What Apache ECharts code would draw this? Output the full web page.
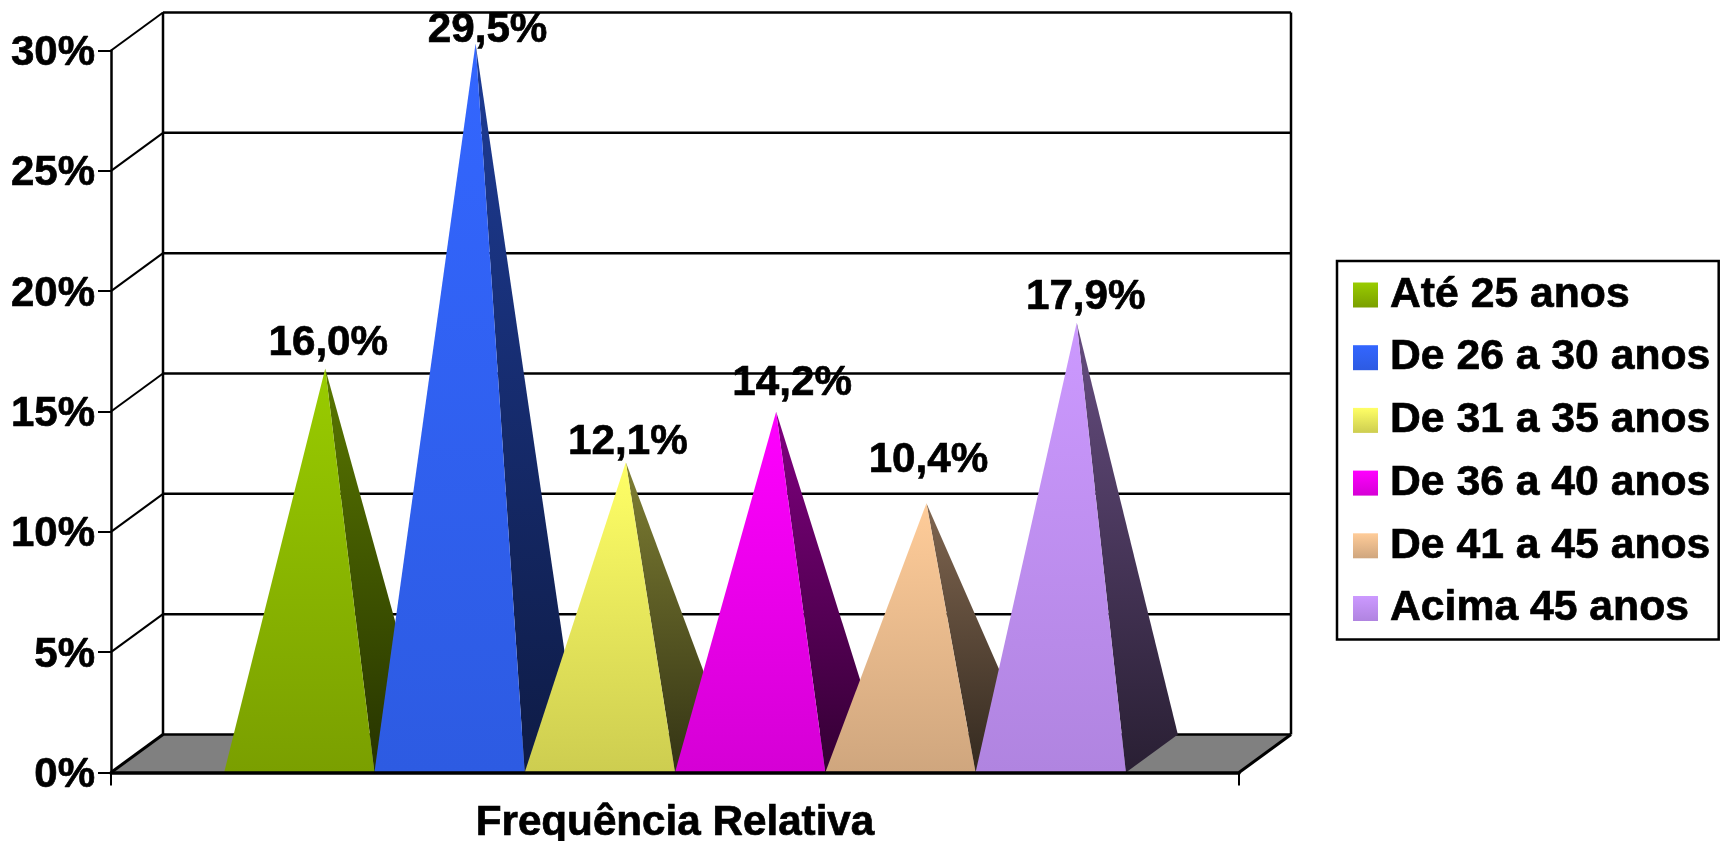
<!DOCTYPE html>
<html>
<head>
<meta charset="utf-8">
<style>html,body{margin:0;padding:0;background:#fff}#c{width:1726px;height:841px}</style>
<script src="https://cdn.jsdelivr.net/npm/echarts@6/dist/echarts.min.js"></script>
</head>
<body>
<div id="c"></div>
<script>
const categories = ['Frequência Relativa'];
const ageGroups = ['Até 25 anos','De 26 a 30 anos','De 31 a 35 anos','De 36 a 40 anos','De 41 a 45 anos','Acima 45 anos'];
const values = [16.0,29.5,12.1,14.2,10.4,17.9];
const yTicks = [0,5,10,15,20,25,30];
const frontTop = ['#99cc00','#3366ff','#ffff66','#ff00ff','#ffcc99','#cc99ff'];
const frontBottom = ['#7a9f00','#2d5be2','#cdcd50','#d500d5','#cfa67e','#b084e0'];
const sideTop = ['#5a7800','#1e3c96','#7f7f33','#800080','#806650','#664d80'];
const sideBottom = ['#263300','#0e1b45','#333314','#330033','#33291f','#291f33'];

// drawing constants (layout of the pseudo-3D box)
const DEPTH_X = 52, DEPTH_Y = -38, BAR_RATIO = 0.13324;
const LABEL_SHIFT_X = [3,12,2,16,2,9];
const LABEL_SHIFT_Y = [-25,-13,-20,-28,-43,-25];
const FAMILY = '"Liberation Sans", Arial, sans-serif';
const FONT = 'bold 42.2px ' + FAMILY;
const grad = (a,b) => ({type:'linear',x:0,y:0,x2:0,y2:1,colorStops:[{offset:0,color:a},{offset:1,color:b}]});

function frameItem(params, api){
  const v = api.value(1);
  const band = api.size([1,0])[0];
  const c = api.coord([0,v]);
  const x0 = c[0]-band/2, x1 = c[0]+band/2;
  const kids = [];
  const line = (a,b,c2,d,w) => ({type:'line',shape:{x1:a,y1:b,x2:c2,y2:d},style:{stroke:'#000',lineWidth:w,fill:null}});
  if (v === 0) {
    const top = api.coord([0,yTicks[yTicks.length-1]])[1];
    kids.push({type:'polygon',shape:{points:[[x0,c[1]],[x1,c[1]],[x1+DEPTH_X,c[1]+DEPTH_Y],[x0+DEPTH_X,c[1]+DEPTH_Y]]},style:{fill:'#808080'}});
    kids.push(line(x0+DEPTH_X,c[1]+DEPTH_Y,x0+DEPTH_X,top+DEPTH_Y,2.5));
    kids.push(line(x1+DEPTH_X,c[1]+DEPTH_Y,x1+DEPTH_X,top+DEPTH_Y,2.5));
    kids.push(line(x1,c[1],x1+DEPTH_X,c[1]+DEPTH_Y,3));
    kids.push(line(x0,c[1],x0+DEPTH_X,c[1]+DEPTH_Y,3));
  } else {
    kids.push(line(x0,c[1],x0+DEPTH_X,c[1]+DEPTH_Y,2));
  }
  kids.push(line(x0+DEPTH_X,c[1]+DEPTH_Y,x1+DEPTH_X,c[1]+DEPTH_Y,2.5));
  return {type:'group',children:kids};
}

function pyramidItem(i){
  return function(params, api){
    const v = api.value(1);
    const band = api.size([1,0])[0];
    const w = band*BAR_RATIO;
    const base = api.coord([0,0]);
    const tip = api.coord([0,v]);
    const xl = base[0]+(i-3)*w, xr = xl+w;
    const apex = [xl+w/2+DEPTH_X/2, tip[1]+DEPTH_Y/2];
    return {type:'group',children:[
      {type:'polygon',shape:{points:[[xr,base[1]],[xr+DEPTH_X,base[1]+DEPTH_Y],apex]},
       style:{fill:grad(sideTop[i],sideBottom[i])}},
      {type:'polygon',shape:{points:[[xl,base[1]],[xr,base[1]],apex]},
       style:{fill:grad(frontTop[i],frontBottom[i])}}
    ]};
  };
}

function labelItem(params, api){
  const i = params.dataIndex;
  const band = api.size([1,0])[0];
  const w = band*BAR_RATIO;
  const base = api.coord([0,0]);
  const tip = api.coord([0,api.value(1)]);
  const xl = base[0]+(i-3)*w;
  return {type:'text',style:{
    text: values[i].toFixed(1).replace('.',',')+'%',
    x: xl+w/2+DEPTH_X/2+LABEL_SHIFT_X[i],
    y: tip[1]+DEPTH_Y/2+LABEL_SHIFT_Y[i],
    textAlign:'center',textVerticalAlign:'middle',font:FONT,fill:'#000',stroke:'#000',lineWidth:0.7}};
}

const series = [{
  type:'custom',name:'frame',silent:true,z:1,clip:false,
  data:yTicks.map(t=>[0,t]),renderItem:frameItem
}];
ageGroups.forEach((name,i)=>{
  series.push({type:'custom',name,silent:true,z:2,clip:false,
    itemStyle:{color:grad(frontTop[i],frontBottom[i])},
    data:[[0,values[i]]],renderItem:pyramidItem(i)});
});
series.push({type:'custom',name:'labels',silent:true,z:5,clip:false,
  data:values.map(v=>[0,v]),renderItem:labelItem});

const chart = echarts.init(document.getElementById('c'),null,{renderer:'canvas'});
chart.setOption({
  animation:false,
  backgroundColor:'#fff',
  textStyle:{fontFamily:FAMILY},
  grid:{left:111,right:487,top:50.5,bottom:68.5,containLabel:false,outerBoundsMode:'none'},
  xAxis:{type:'category',data:categories,z:10,
    axisLine:{lineStyle:{color:'#000',width:3.5}},
    axisTick:{show:true,length:13,lineStyle:{color:'#000',width:2}},
    axisLabel:{color:'#000',fontSize:42.2,fontWeight:'bold',margin:30,fontFamily:FAMILY,textBorderColor:'#000',textBorderWidth:0.7},
    splitLine:{show:false}},
  yAxis:{type:'value',min:0,max:30,interval:5,z:10,
    axisLine:{show:true,lineStyle:{color:'#000',width:2.5}},
    axisTick:{show:true,length:13,lineStyle:{color:'#000',width:2}},
    axisLabel:{color:'#000',fontSize:42,fontWeight:'bold',margin:16,formatter:'{value}%',fontFamily:FAMILY,verticalAlign:'top',lineHeight:6,textBorderColor:'#000',textBorderWidth:0.7},
    splitLine:{show:false}},
  legend:{orient:'vertical',left:1337,top:261,data:ageGroups,selectedMode:false,
    icon:'rect',itemWidth:25,itemHeight:25,itemGap:18.7,
    padding:[12,8,9,16],borderColor:'#000',borderWidth:2.5,backgroundColor:'#fff',
    textStyle:{color:'#000',fontSize:42.7,fontWeight:'bold',lineHeight:38,padding:[6,0,0,7],fontFamily:FAMILY,textBorderColor:'#000',textBorderWidth:0.7}},
  series
});
</script>
</body>
</html>
